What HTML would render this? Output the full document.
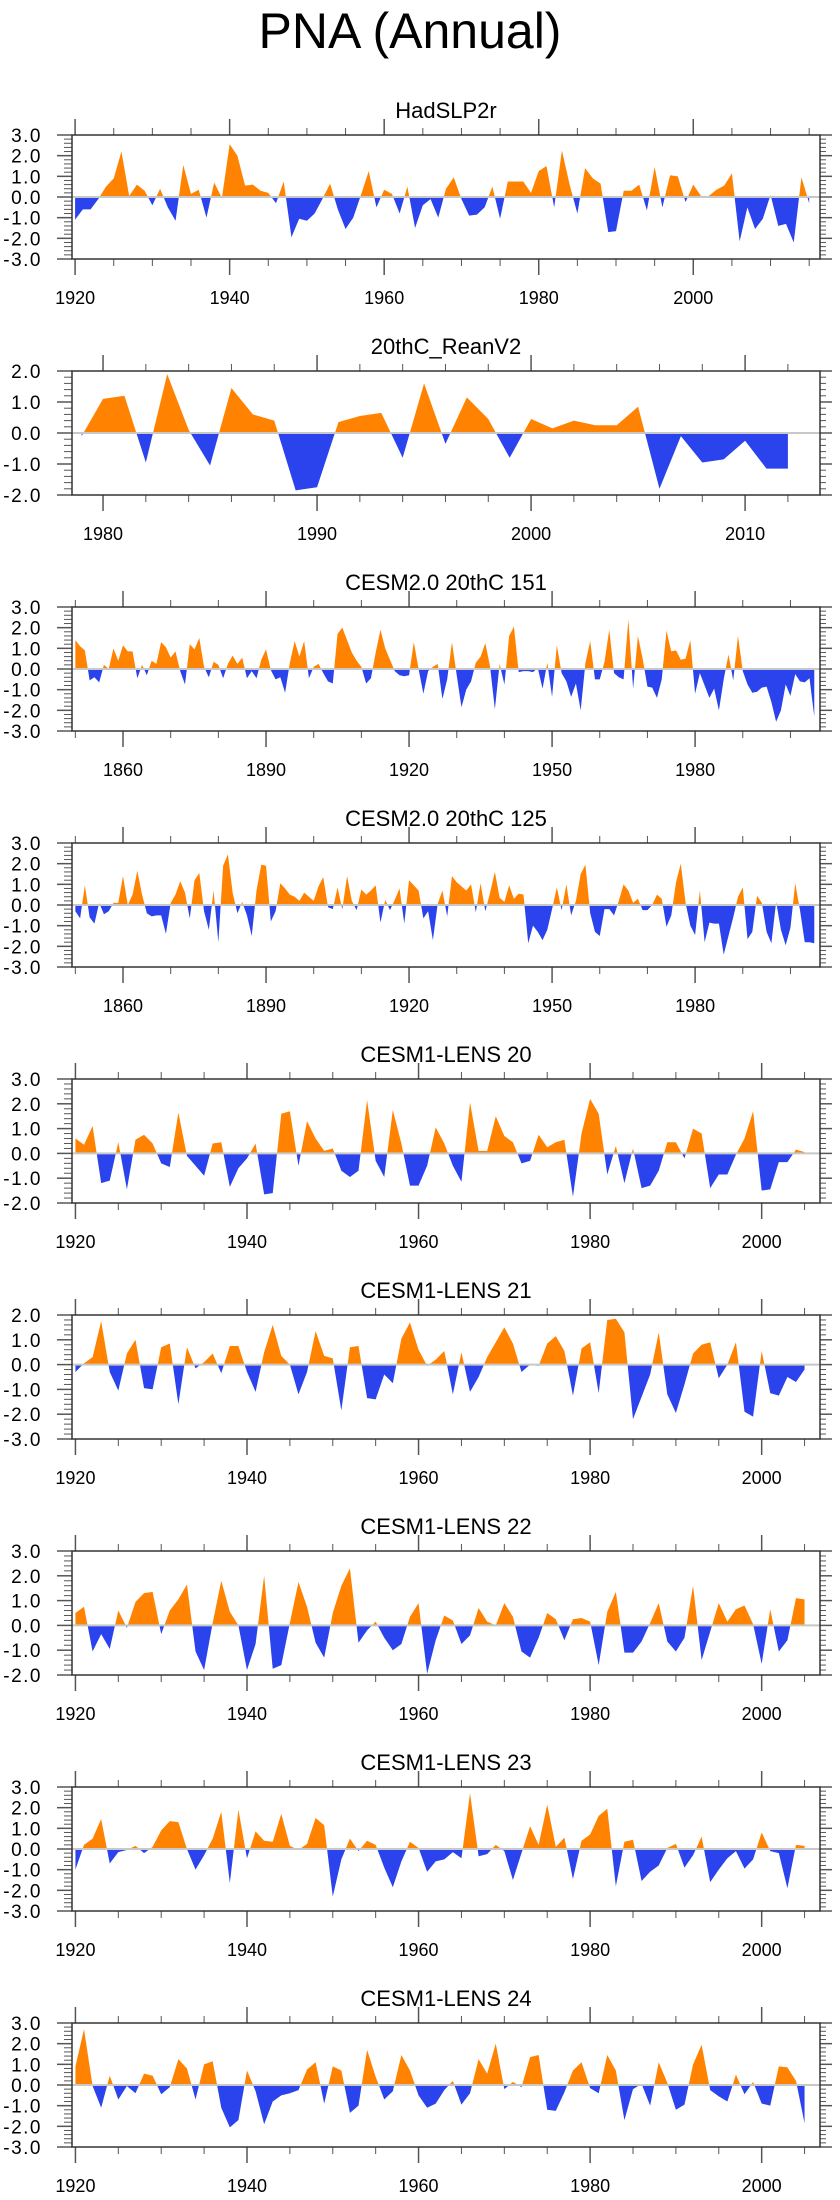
<!DOCTYPE html>
<html><head><meta charset="utf-8"><style>
html,body{margin:0;padding:0;background:#fff}
svg{display:block}
text{font-family:"Liberation Sans",sans-serif;fill:#000}
</style></head><body>
<svg id="chart" width="840" height="2200" viewBox="0 0 840 2200" xmlns="http://www.w3.org/2000/svg">
<text x="410" y="48" font-size="50" text-anchor="middle">PNA (Annual)</text>
</svg>
<script>
// ---- data ----
const titles = ["HadSLP2r","20thC_ReanV2","CESM2.0 20thC 151","CESM2.0 20thC 125","CESM1-LENS 20","CESM1-LENS 21","CESM1-LENS 22","CESM1-LENS 23","CESM1-LENS 24"];
const startYears = [1920,1979,1850,1850,1920,1920,1920,1920,1920];
const yMins = [-3,-2,-3,-3,-2,-3,-2,-3,-3];
const yMaxs = [3,2,3,3,3,2,3,3,3];
const xMins = [1919.6,1978.55,1849.3,1849.3,1919.6,1919.6,1919.6,1919.6,1919.6];
const xMaxs = [2016.4,2013.5,2006.2,2006.2,2006.8,2006.8,2006.8,2006.8,2006.8];
const majorStarts = [1920,1980,1860,1860,1920,1920,1920,1920,1920];
const majorSteps = [20,10,30,30,20,20,20,20,20];
const minorSteps = [5,2,10,10,5,5,5,5,5];

const hadslp2r = [-1.1,-0.6,-0.6,-0.1,0.5,0.9,2.2,0.05,0.6,0.3,
 -0.4,0.4,-0.5,-1.15,1.55,0.15,0.35,-1.0,0.7,-0.05,
 2.55,2.0,0.55,0.6,0.3,0.2,-0.3,0.75,-1.95,-1.05,
 -1.15,-0.8,-0.1,0.65,-0.6,-1.55,-1.0,0.1,1.25,-0.5,
 0.35,0.15,-0.8,0.5,-1.5,-0.4,-0.1,-1.0,0.4,0.95,
 -0.1,-0.9,-0.85,-0.5,0.5,-1.05,0.75,0.75,0.75,0.2,
 1.25,1.5,-0.5,2.25,0.6,-0.8,1.4,0.9,0.65,-1.7,
 -1.65,0.3,0.3,0.6,-0.65,1.45,-0.5,1.05,1.0,-0.25,
 0.6,0.05,0.05,0.35,0.55,1.15,-2.15,-0.5,-1.55,-1.05,
 0.1,-1.4,-1.3,-2.2,0.95,-0.3];
const reanV2 = [-0.1,1.1,1.2,-0.95,1.9,0.1,-1.05,1.45,0.6,0.4,
 -1.85,-1.75,0.35,0.55,0.65,-0.8,1.6,-0.35,1.15,0.45,
 -0.8,0.45,0.15,0.4,0.25,0.25,0.85,-1.8,-0.1,-0.95,
 -0.85,-0.25,-1.15,-1.15];
const cesm2_151 = [1.4,1.1,0.9,-0.55,-0.4,-0.65,0.2,0.0,1.0,0.4,
 1.15,0.85,0.85,-0.45,0.2,-0.3,0.4,0.25,1.3,1.05,
 0.55,0.85,-0.1,-0.75,1.2,0.95,1.5,0.1,-0.4,0.35,
 0.2,-0.45,0.25,0.65,0.25,0.55,-0.45,-0.1,-0.45,0.45,
 0.95,-0.05,-0.5,-0.4,-1.15,0.3,1.35,0.6,1.35,-0.45,
 0.1,0.25,-0.2,-0.6,-0.7,1.7,2.0,1.4,0.8,0.4,
 0.1,-0.7,-0.45,0.8,1.9,1.0,0.45,-0.1,-0.3,-0.35,
 -0.3,1.3,0.0,-1.2,-0.1,0.1,0.25,-1.45,-0.5,1.3,
 -0.3,-1.85,-1.0,-0.6,0.3,0.6,1.25,0.1,-1.95,0.25,
 -0.75,1.6,2.05,-0.15,-0.1,-0.1,-0.15,0.05,-0.95,0.3,
 -1.35,1.15,-0.2,-0.6,-1.35,-0.7,-2.0,0.3,1.35,-0.5,
 -0.5,0.35,1.9,-0.2,-0.4,-0.5,2.4,-0.95,1.6,0.5,
 -0.85,-0.9,-1.4,-0.5,1.85,0.85,0.9,0.45,0.5,1.4,
 -1.2,-0.2,-0.8,-1.4,-0.95,-2.0,-0.5,0.7,-0.55,1.6,
 -0.1,-0.75,-1.15,-1.1,-0.9,-0.85,-1.6,-2.55,-2.0,-0.75,
 -1.3,-0.25,-0.6,-0.65,-0.45,-2.3];
const cesm2_125 = [-0.3,-0.65,0.95,-0.6,-0.9,0.1,-0.45,-0.3,0.1,0.1,
 1.4,0.0,0.5,1.65,0.5,-0.4,-0.55,-0.5,-0.5,-1.4,
 0.1,0.5,1.15,0.6,-0.65,1.2,1.55,-0.3,-1.2,0.7,
 -1.8,1.9,2.45,0.6,-0.4,0.15,-0.5,-1.5,0.7,1.95,
 1.9,-0.8,-0.3,1.05,0.8,0.5,0.4,0.2,0.6,0.4,
 0.2,0.9,1.35,-0.1,-0.2,0.85,-0.2,1.4,0.2,-0.25,
 0.75,0.5,0.7,0.95,-0.85,0.25,-0.25,0.25,0.8,-0.9,
 1.2,0.95,0.7,-0.65,-0.3,-1.7,0.05,0.7,-0.55,1.4,
 1.1,0.9,0.7,1.0,-0.35,1.05,-0.3,0.6,1.6,0.35,
 0.15,0.95,0.3,0.55,0.5,-1.85,-1.0,-1.3,-1.7,-1.2,
 -0.2,0.85,-0.25,1.0,-0.5,0.2,1.5,1.95,-0.4,-1.3,
 -1.5,-0.2,-0.2,-0.5,0.2,1.0,0.7,0.1,0.3,-0.25,
 -0.25,0.0,0.5,0.3,-1.05,-0.5,1.1,2.0,0.1,-1.0,
 -1.45,0.7,-1.8,-0.85,-0.9,-0.9,-2.4,-1.5,-0.6,0.4,
 0.85,-1.65,-1.3,0.45,0.1,-1.3,-1.85,0.15,-1.2,-1.95,
 -1.1,1.05,-0.25,-1.8,-1.8,-1.85];
const lens20 = [0.6,0.35,1.1,-1.2,-1.1,0.45,-1.45,0.55,0.75,0.4,
 -0.4,-0.55,1.65,-0.1,-0.5,-0.9,0.4,0.45,-1.35,-0.6,
 -0.2,0.4,-1.65,-1.6,1.6,1.7,-0.5,1.3,0.6,0.1,
 0.2,-0.7,-0.95,-0.7,2.15,-0.3,-0.95,1.75,0.4,-1.3,
 -1.3,-0.5,1.05,0.4,-0.5,-1.15,2.05,0.1,0.1,1.5,
 0.7,0.45,-0.4,-0.3,0.75,0.25,0.45,0.55,-1.75,0.8,
 2.2,1.6,-0.85,0.3,-1.2,0.2,-1.4,-1.3,-0.7,0.45,
 0.45,-0.2,1.0,0.8,-1.4,-0.85,-0.85,-0.05,0.6,1.7,
 -1.5,-1.45,-0.35,-0.35,0.15,0.05];
const lens21 = [-0.3,0.05,0.3,1.75,-0.3,-1.05,0.45,1.0,-0.95,-1.0,
 0.7,0.85,-1.6,0.7,-0.15,0.1,0.45,-0.35,0.75,0.75,
 -0.3,-1.1,0.5,1.6,0.35,0.0,-1.2,-0.3,1.35,0.35,
 0.25,-1.85,0.7,0.75,-1.35,-1.4,-0.4,-0.75,1.05,1.7,
 0.6,-0.05,0.2,0.55,-1.2,0.5,-1.1,-0.5,0.3,0.9,
 1.5,0.85,-0.3,0.0,-0.05,0.85,1.15,0.55,-1.25,0.65,
 0.9,-1.15,1.8,1.85,1.3,-2.2,-1.3,-0.4,1.3,-1.2,
 -1.95,-0.8,0.45,0.8,0.9,-0.55,0.0,0.9,-1.9,-2.1,
 0.55,-1.15,-1.25,-0.5,-0.7,-0.2];
const lens22 = [0.5,0.75,-1.05,-0.35,-0.95,0.6,-0.1,0.95,1.3,1.35,
 -0.35,0.6,1.05,1.65,-1.05,-1.8,0.1,1.8,0.55,0.0,
 -1.8,-0.75,2.0,-1.75,-1.6,0.1,1.75,0.75,-0.7,-1.3,
 0.5,1.6,2.3,-0.7,-0.2,0.15,-0.5,-1.0,-0.75,0.35,
 0.9,-1.95,-0.6,0.4,0.2,-0.75,-0.4,0.7,0.15,0.0,
 0.9,0.35,-1.05,-1.3,-0.5,0.5,0.25,-0.6,0.25,0.3,
 0.15,-1.6,0.55,1.35,-1.1,-1.1,-0.65,0.1,0.9,-0.65,
 -1.05,-0.5,1.6,-1.4,-0.25,0.9,0.15,0.65,0.8,0.05,
 -1.55,0.65,-1.05,-0.6,1.1,1.05];
const lens23 = [-1.0,0.2,0.5,1.45,-0.7,-0.15,-0.05,0.15,-0.2,0.1,
 0.9,1.35,1.3,0.0,-1.0,-0.3,0.5,1.8,-1.65,1.9,
 -0.45,0.85,0.4,0.35,1.7,0.15,-0.05,0.25,1.5,1.15,
 -2.3,-0.5,0.5,-0.1,0.4,0.2,-0.9,-1.85,-0.6,0.35,
 0.05,-1.1,-0.6,-0.5,-0.15,-0.45,2.7,-0.35,-0.25,0.2,
 -0.1,-1.5,-0.2,1.1,0.2,2.15,0.1,0.55,-1.45,0.4,
 0.7,1.6,1.95,-1.8,0.35,0.45,-1.55,-1.1,-0.8,0.05,
 0.25,-0.9,-0.3,0.6,-1.6,-1.0,-0.45,-0.1,-0.95,-0.5,
 0.8,-0.1,-0.2,-1.9,0.2,0.15];
const lens24 = [0.9,2.7,-0.05,-1.1,0.45,-0.7,-0.05,-0.4,0.55,0.45,
 -0.45,-0.1,1.25,0.8,-0.7,1.0,1.15,-1.1,-2.05,-1.7,
 0.7,-0.3,-1.9,-0.8,-0.5,-0.4,-0.25,0.75,1.1,-0.9,
 0.9,0.7,-1.35,-1.0,1.7,0.4,-0.7,-0.3,1.45,0.7,
 -0.5,-1.1,-0.9,-0.25,0.2,-0.95,-0.4,1.25,0.55,2.0,
 -0.2,0.15,-0.1,1.35,1.45,-1.2,-1.25,-0.35,0.7,1.1,
 -0.15,-0.4,1.45,0.7,-1.7,-0.2,0.05,-1.0,1.1,0.1,
 -1.2,-0.95,1.0,1.95,-0.25,-0.55,-0.8,0.5,-0.45,0.15,
 -0.9,-1.0,0.9,0.85,0.2,-1.85];
const seriesList = [hadslp2r,reanV2,cesm2_151,cesm2_125,lens20,lens21,lens22,lens23,lens24];

// ---- layout ----
const NS = "http://www.w3.org/2000/svg";
const svg = document.getElementById("chart");
const L = 72, R = 820, H = 124;
const tops = [135,371,607,843,1079,1315,1551,1787,2023];
function mk(tag, attrs, parent){
  const e = document.createElementNS(NS, tag);
  for (const k in attrs) e.setAttribute(k, attrs[k]);
  (parent||svg).appendChild(e);
  return e;
}
const slug = s => s.toLowerCase().replace(/[^a-z0-9]+/g,'-').replace(/-$/,'');

seriesList.forEach((vals, p) => {
  const top = tops[p], bot = top + H;
  const x0 = xMins[p], x1 = xMaxs[p], y0 = yMins[p], y1 = yMaxs[p];
  const xs = yr => L + (yr - x0) / (x1 - x0) * (R - L);
  const ys = v => bot - (v - y0) / (y1 - y0) * H;
  const g = mk("g", {});
  
  

  const t = mk("text", {x: (L+R)/2, y: top - 17, "font-size": 22, "text-anchor": "middle"}, g);
  t.textContent = titles[p];
  
  

  const zy = ys(0);
  const cpA = mk("clipPath", {id: "ca"+p}, g);
  mk("rect", {x: L, y: top, width: R-L, height: zy-top}, cpA);
  const cpB = mk("clipPath", {id: "cb"+p}, g);
  mk("rect", {x: L, y: zy, width: R-L, height: bot-zy}, cpB);

  let d = "M" + xs(startYears[p]).toFixed(2) + "," + zy.toFixed(2);
  vals.forEach((v, i) => { d += " L" + xs(startYears[p]+i).toFixed(2) + "," + ys(v).toFixed(2); });
  d += " L" + xs(startYears[p]+vals.length-1).toFixed(2) + "," + zy.toFixed(2) + " Z";
  const pa = mk("path", {d: d, fill: "#ff8300", "clip-path": "url(#ca"+p+")"}, g);
  
  
  const pb = mk("path", {d: d, fill: "#2a43ec", "clip-path": "url(#cb"+p+")"}, g);
  
  

  const zl = mk("line", {x1: L, x2: R, y1: zy, y2: zy, stroke: "#c8c8c8", "stroke-width": 2}, g);
  
  

  for (let k = Math.round(y0*5); k <= Math.round(y1*5); k++) {
    const v = k/5, yy = ys(v), major = (k % 5 === 0);
    mk("line", {x1: L - (major?15:8), x2: L, y1: yy, y2: yy, stroke: "#555", "stroke-width": major?1.5:1}, g);
    mk("line", {x1: R, x2: R + (major?12:6), y1: yy, y2: yy, stroke: "#555", "stroke-width": major?1.5:1}, g);
    if (major) {
      const lb = mk("text", {x: 42, y: yy + 7, "font-size": 19, "letter-spacing": "1.5", "text-anchor": "end"}, g);
      lb.textContent = v.toFixed(1);
      
      
    }
  }
  const ms = minorSteps[p];
  for (let yr = Math.ceil(x0/ms)*ms; yr <= x1; yr += ms) {
    const xx = xs(yr), major = ((yr - majorStarts[p]) % majorSteps[p] === 0);
    const len = major ? 16 : 7;
    mk("line", {x1: xx, x2: xx, y1: top - len, y2: top, stroke: "#555", "stroke-width": major?1.5:1}, g);
    mk("line", {x1: xx, x2: xx, y1: bot, y2: bot + len, stroke: "#555", "stroke-width": major?1.5:1}, g);
    if (major) {
      const lb = mk("text", {x: xx, y: bot + 45, "font-size": 18, "text-anchor": "middle"}, g);
      lb.textContent = yr;
      
      
    }
  }
  const fr = mk("rect", {x: L, y: top, width: R-L, height: H, fill: "none", stroke: "#333", "stroke-width": 1.5}, g);
  
  
});
</script>
</body></html>
